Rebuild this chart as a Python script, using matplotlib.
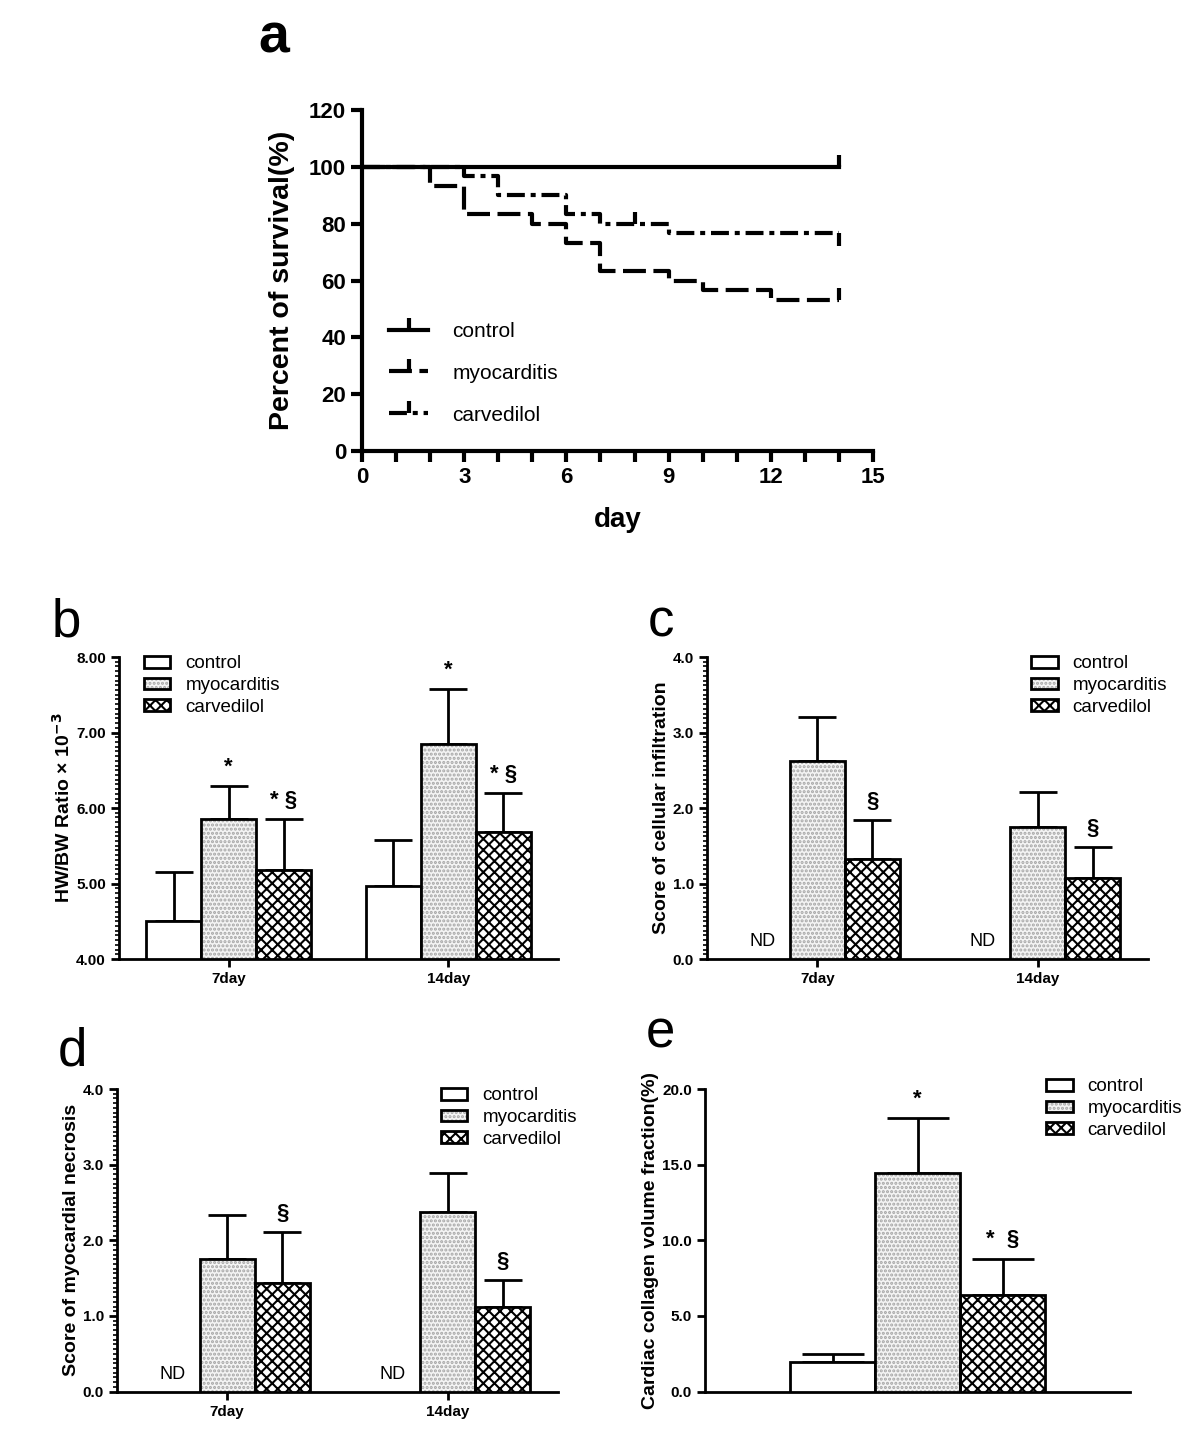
"""
Survival curve and histology bar panels (a-e)
"""
import matplotlib
matplotlib.use("Agg")
import matplotlib.pyplot as plt
from matplotlib.lines import Line2D
from matplotlib.patches import Patch
from matplotlib.legend_handler import HandlerTuple
from matplotlib.ticker import MultipleLocator

plt.rcParams["font.family"] = ["Liberation Sans", "DejaVu Sans"]
plt.rcParams["hatch.linewidth"] = 1.5

# ---- data ----
series = ["control", "myocarditis", "carvedilol"]
groups = ["7day", "14day"]

# a: survival (%)
ctrl_days = [0, 14]
ctrl_surv = [100, 100]
myo_days = [0, 2, 3, 5, 6, 7, 9, 10, 12, 14]
myo_surv = [100, 93.3, 83.3, 80.0, 73.3, 63.3, 60.0, 56.7, 53.3, 53.3]
carv_days = [0, 3, 4, 6, 7, 9, 14]
carv_surv = [100, 96.7, 90.0, 83.3, 80.0, 76.7, 76.7]
ctrl_censor = [14]
myo_censor = [14]
carv_censor = [8, 14]

# b: HW/BW ratio x 10^-3
b_ctrl = [4.50, 4.97]
b_ctrl_sd = [0.65, 0.60]
b_myo = [5.85, 6.85]
b_myo_sd = [0.44, 0.72]
b_carv = [5.18, 5.68]
b_carv_sd = [0.67, 0.52]
b_marks = [["", ""], ["*", "*"], ["* §", "* §"]]

# c: cellular infiltration score (control not detected)
c_ctrl = [0, 0]
c_ctrl_sd = [0, 0]
c_myo = [2.62, 1.75]
c_myo_sd = [0.59, 0.46]
c_carv = [1.32, 1.07]
c_carv_sd = [0.52, 0.41]
c_marks = [["ND", "ND"], ["", ""], ["§", "§"]]

# d: myocardial necrosis score
d_ctrl = [0, 0]
d_ctrl_sd = [0, 0]
d_myo = [1.75, 2.37]
d_myo_sd = [0.59, 0.52]
d_carv = [1.44, 1.12]
d_carv_sd = [0.67, 0.35]
d_marks = [["ND", "ND"], ["", ""], ["§", "§"]]

# e: collagen volume fraction (%)
e_vals = [1.94, 14.44, 6.39]
e_sd = [0.55, 3.64, 2.39]
e_marks = ["", "*", "*  §"]

MYO_FACE = "#f4f4f4"
MYO_HATCH = "#a6a6a6"
MYO_PAT = "...."
CARV_PAT = "xxx"


def draw_bar(ax, x, h, w, kind, bottom=0):
    """バーを1本描く"""
    if kind == 0:
        ax.bar(x, h, w, bottom=bottom, facecolor="white", edgecolor="black",
               linewidth=2, zorder=3)
    elif kind == 1:
        ax.bar(x, h, w, bottom=bottom, facecolor=MYO_FACE, edgecolor=MYO_HATCH,
               hatch=MYO_PAT, linewidth=0, zorder=3)
        ax.bar(x, h, w, bottom=bottom, fill=False, edgecolor="black", linewidth=2, zorder=4)
    else:
        ax.bar(x, h, w, bottom=bottom, facecolor="white", edgecolor="black",
               hatch=CARV_PAT, linewidth=2, zorder=3)


def legend_handles():
    h0 = Patch(facecolor="white", edgecolor="black", linewidth=2)
    h1 = (Patch(facecolor=MYO_FACE, edgecolor=MYO_HATCH, hatch=MYO_PAT, linewidth=0),
          Patch(fill=False, edgecolor="black", linewidth=2))
    h2 = Patch(facecolor="white", edgecolor="black", hatch=CARV_PAT, linewidth=2)
    return [h0, h1, h2]


def style_bar_axes(ax):
    for s in ["top", "right"]:
        ax.spines[s].set_visible(False)
    for s in ["left", "bottom"]:
        ax.spines[s].set_linewidth(2)
    ax.tick_params(axis="both", width=2, length=6, labelsize=11)
    ax.tick_params(axis="y", which="minor", width=1.2, length=3)
    for lab in ax.get_xticklabels() + ax.get_yticklabels():
        lab.set_fontweight("bold")


def add_legend(ax, anchor, loc):
    ax.legend(legend_handles(), series, loc=loc, bbox_to_anchor=anchor,
              frameon=False, fontsize=13.5, labelspacing=0.25, handlelength=1.4,
              handleheight=0.6, handletextpad=0.8, borderaxespad=0,
              handler_map={tuple: HandlerTuple(ndivide=1, pad=0)})


def mark(ax, text, x, y):
    ax.annotate(text, (x, y), xytext=(0, 6), textcoords="offset points",
                ha="center", va="bottom", fontsize=16, fontweight="bold")


def grouped_panel(ax, vals, sds, marks, ylim, major, fmt, ylabel):
    w = 0.25
    offs = [-w, 0, w]
    for k in range(3):
        for g in range(len(groups)):
            x = g + offs[k]
            if marks[k][g] == "ND":
                ax.text(x, ylim[0] + 0.03 * (ylim[1] - ylim[0]), "ND",
                        ha="center", va="bottom", fontsize=13, zorder=5)
                continue
            draw_bar(ax, x, vals[k][g] - ylim[0], w, k, bottom=ylim[0])
            ax.errorbar(x, vals[k][g], yerr=[[0], [sds[k][g]]], fmt="none",
                        ecolor="black", elinewidth=2, capsize=14, capthick=2, zorder=2)
            if marks[k][g]:
                mark(ax, marks[k][g], x, vals[k][g] + sds[k][g])
    ax.set_xlim(-0.5, 1.5)
    ax.set_ylim(*ylim)
    ax.set_xticks(range(len(groups)))
    ax.set_xticklabels(groups)
    ax.set_yticks([ylim[0] + i * major for i in range(int(round((ylim[1] - ylim[0]) / major)) + 1)])
    ax.yaxis.set_major_formatter(fmt)
    ax.yaxis.set_minor_locator(MultipleLocator(major / 16))
    ax.set_ylabel(ylabel, fontsize=14, fontweight="bold", labelpad=2)
    style_bar_axes(ax)


fig = plt.figure(figsize=(12, 14.32), dpi=100)

# ---- a ----
MYO_DASH = (5.5, 1.8)
CARV_DASH = (4.3, 1.4, 1.2, 1.4)
ax_a = fig.add_axes([0.3017, 0.685, 0.4258, 0.2381])
ax_a.step(ctrl_days, ctrl_surv, where="post", color="black", linewidth=3)
ax_a.step(myo_days, myo_surv, where="post", color="black", linewidth=3,
          dashes=MYO_DASH)
ax_a.step(carv_days, carv_surv, where="post", color="black", linewidth=3,
          dashes=CARV_DASH)
for days, surv, cen in [(ctrl_days, ctrl_surv, ctrl_censor),
                        (myo_days, myo_surv, myo_censor),
                        (carv_days, carv_surv, carv_censor)]:
    for t in cen:
        yv = [s for d, s in zip(days, surv) if d <= t][-1]
        mk = 3 if (days is carv_days and t == days[-1]) else 2
        ax_a.plot([t], [yv], marker=mk, markersize=9, markeredgewidth=3, color="black")
ax_a.set_xlim(0, 15)
ax_a.set_ylim(0, 120)
ax_a.set_xticks([0, 3, 6, 9, 12, 15])
ax_a.xaxis.set_minor_locator(MultipleLocator(1))
ax_a.set_yticks(range(0, 121, 20))
for s in ["top", "right"]:
    ax_a.spines[s].set_visible(False)
for s in ["left", "bottom"]:
    ax_a.spines[s].set_linewidth(3)
ax_a.tick_params(axis="both", which="both", width=3, length=8, labelsize=16)
for lab in ax_a.get_xticklabels() + ax_a.get_yticklabels():
    lab.set_fontweight("bold")
ax_a.set_xlabel("day", fontsize=20, fontweight="bold", labelpad=14)
ax_a.set_ylabel("Percent of survival(%)", fontsize=20.5, fontweight="bold", labelpad=10)
a_handles = [
    Line2D([0], [0], color="black", linewidth=3, marker=2, markersize=9, markeredgewidth=3),
    Line2D([0], [0], color="black", linewidth=3, dashes=MYO_DASH, marker=2,
           markersize=9, markeredgewidth=3),
    Line2D([0], [0], color="black", linewidth=3, dashes=CARV_DASH, marker=2,
           markersize=9, markeredgewidth=3),
]
ax_a.legend(a_handles, series, loc="lower left", bbox_to_anchor=(0.036, 0.053),
            frameon=False, fontsize=15, labelspacing=1.1, handlelength=1.9,
            handletextpad=1.15, numpoints=1, borderaxespad=0)
fig.text(0.215, 0.973, "a", fontsize=40, fontweight="bold", ha="left", va="center")

# ---- b ----
ax_b = fig.add_axes([0.0992, 0.3303, 0.3658, 0.2109])
grouped_panel(ax_b, [b_ctrl, b_myo, b_carv], [b_ctrl_sd, b_myo_sd, b_carv_sd],
              b_marks, (4, 8), 1.0, "{x:.2f}", r"HW/BW Ratio × 10$^{\mathbf{-3}}$")
add_legend(ax_b, (0.04, 1.03), "upper left")
fig.text(0.043, 0.565, "b", fontsize=38, ha="left", va="center")

# ---- c ----
ax_c = fig.add_axes([0.5892, 0.3303, 0.3675, 0.2109])
grouped_panel(ax_c, [c_ctrl, c_myo, c_carv], [c_ctrl_sd, c_myo_sd, c_carv_sd],
              c_marks, (0, 4), 1.0, "{x:.1f}", "Score of cellular infiltration")
add_legend(ax_c, (1.06, 1.03), "upper right")
fig.text(0.54, 0.565, "c", fontsize=38, ha="left", va="center")

# ---- d ----
ax_d = fig.add_axes([0.0975, 0.0282, 0.3675, 0.2113])
grouped_panel(ax_d, [d_ctrl, d_myo, d_carv], [d_ctrl_sd, d_myo_sd, d_carv_sd],
              d_marks, (0, 4), 1.0, "{x:.1f}", "Score of myocardial necrosis")
add_legend(ax_d, (1.06, 1.03), "upper right")
fig.text(0.048, 0.266, "d", fontsize=38, ha="left", va="center")

# ---- e ----
ax_e = fig.add_axes([0.5875, 0.0282, 0.3542, 0.2113])
for k in range(3):
    x = k - 1
    draw_bar(ax_e, x, e_vals[k], 1.0, k)
    ax_e.errorbar(x, e_vals[k], yerr=[[0], [e_sd[k]]], fmt="none", ecolor="black",
                  elinewidth=2, capsize=22, capthick=2, zorder=2)
    if e_marks[k]:
        mark(ax_e, e_marks[k], x, e_vals[k] + e_sd[k])
ax_e.set_xlim(-2.5, 2.5)
ax_e.set_ylim(0, 20)
ax_e.set_xticks([])
ax_e.set_yticks([0, 5, 10, 15, 20])
ax_e.yaxis.set_major_formatter("{x:.1f}")
ax_e.set_ylabel("Cardiac collagen volume fraction(%)", fontsize=14, fontweight="bold",
                labelpad=2)
style_bar_axes(ax_e)
add_legend(ax_e, (1.14, 1.06), "upper right")
fig.text(0.538, 0.278, "e", fontsize=38, ha="left", va="center")

fig.savefig("out.png", dpi=100)
